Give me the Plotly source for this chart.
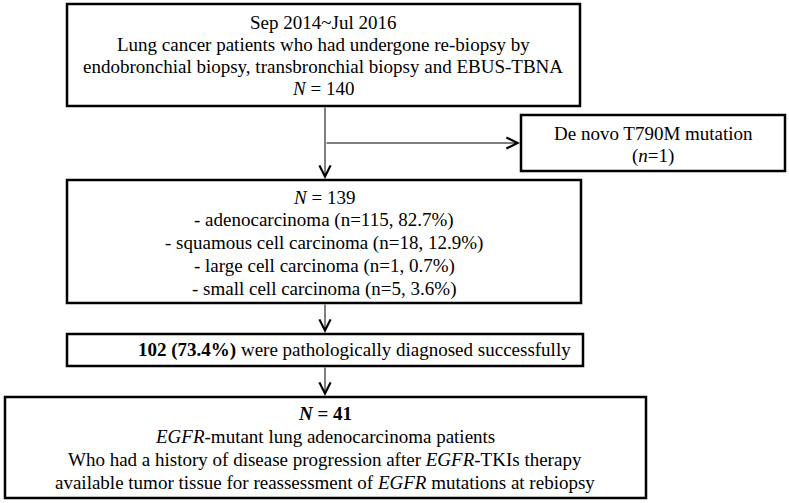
import plotly.graph_objects as go

W, H = 789, 503

# ---- text content (data) ----
box1_lines = ["Sep 2014~Jul 2016",
              "Lung cancer patients who had undergone re-biopsy by",
              "endobronchial biopsy, transbronchial biopsy and EBUS-TBNA",
              "<i>N</i> = 140"]
side_lines = ["De novo T790M mutation", "(<i>n</i>=1)"]
box2_lines = ["<i>N</i> = 139",
              "- adenocarcinoma (n=115, 82.7%)",
              "- squamous cell carcinoma (n=18, 12.9%)",
              "- large cell carcinoma (n=1, 0.7%)",
              "- small cell carcinoma (n=5, 3.6%)"]
box3_lines = ["<b>102 (73.4%)</b> were pathologically diagnosed successfully"]
box4_lines = ["<b><i>N</i> = 41</b>",
              "<i>EGFR</i>-mutant lung adenocarcinoma patients",
              "Who had a history of disease progression after <i>EGFR</i>-TKIs therapy",
              "available tumor tissue for reassessment of <i>EGFR</i> mutations at rebiopsy"]

# ---- layout geometry (pixels, y downward) ----
boxes = [
    dict(x0=67, x1=580, y0=4, y1=106, lines=box1_lines, tx=323, ty0=22, dy=22, anchor="center"),
    dict(x0=521, x1=785, y0=115, y1=171, lines=side_lines, tx=653, ty0=133, dy=23, anchor="center"),
    dict(x0=67, x1=581, y0=180, y1=303, lines=box2_lines, tx=324, ty0=197, dy=23, anchor="center"),
    dict(x0=67, x1=583, y0=334, y1=366, lines=box3_lines, tx=573, ty0=350, dy=22, anchor="right"),
    dict(x0=5, x1=646, y0=397, y1=498, lines=box4_lines, tx=325, ty0=413, dy=23, anchor="center"),
]
FONT = "Liberation Serif"
FS = 19

fig = go.Figure()
fig.add_trace(go.Scatter(x=[0, W], y=[0, H], mode="markers", marker=dict(opacity=0),
                         hoverinfo="skip", showlegend=False))

shapes = []
annotations = []
for b in boxes:
    shapes.append(dict(type="rect", x0=b["x0"], x1=b["x1"], y0=b["y0"], y1=b["y1"],
                       line=dict(color="black", width=2.5), fillcolor="white", layer="below"))
    for i, t in enumerate(b["lines"]):
        annotations.append(dict(x=b["tx"], y=b["ty0"] + i * b["dy"], text=t, showarrow=False,
                                xanchor=b["anchor"], yanchor="middle",
                                font=dict(family=FONT, size=FS, color="black")))

ax_x = 325
# connectors: main line from box1 to box2, branch, and two lower arrows
arrows = [
    (ax_x, 106, ax_x, 179),
    (ax_x, 143, 520, 143),
    (ax_x, 303, ax_x, 333),
    (ax_x, 366, ax_x, 396),
]
for (x0, y0, x1, y1) in arrows:
    annotations.append(dict(x=x1, y=y1, ax=x0, ay=y0, xref="x", yref="y", axref="x", ayref="y",
                            text="", showarrow=True, arrowhead=5, arrowsize=2.2, arrowwidth=1,
                            arrowcolor="black", standoff=0))

fig.update_layout(
    width=W, height=H, margin=dict(l=0, r=0, t=0, b=0),
    paper_bgcolor="white", plot_bgcolor="white",
    xaxis=dict(range=[0, W], visible=False, fixedrange=True),
    yaxis=dict(range=[H, 0], visible=False, fixedrange=True),
    shapes=shapes, annotations=annotations, showlegend=False,
)
fig.write_html("out.html", config={"displayModeBar": False},
               post_script="document.body.style.margin='0';document.body.style.overflow='hidden';")
